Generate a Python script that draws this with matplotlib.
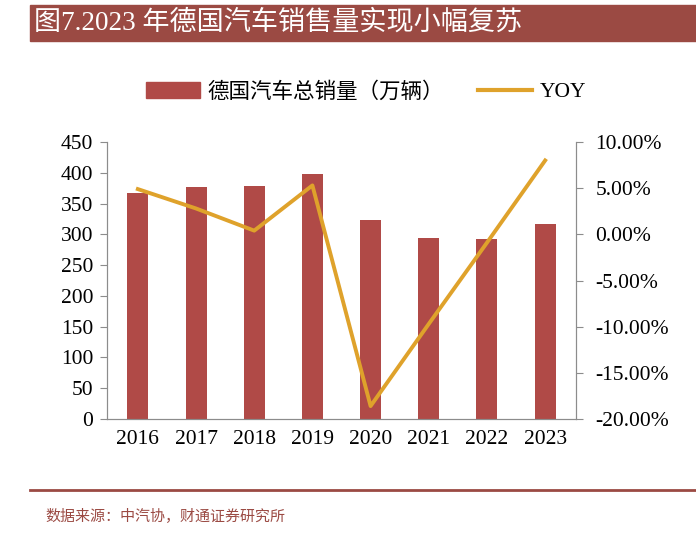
import matplotlib
matplotlib.use('Agg')
import matplotlib.pyplot as plt
from matplotlib.patches import Rectangle
from matplotlib.lines import Line2D
from matplotlib.ticker import FuncFormatter

plt.rcParams['font.family'] = ['Liberation Serif', 'Noto Sans CJK SC', 'DejaVu Sans']

years = ['2016', '2017', '2018', '2019', '2020', '2021', '2022', '2023']
sales = [367, 377, 378, 398, 323, 294, 293, 316]  # 万辆
yoy = [4.9, 2.8, 0.4, 5.3, -18.6, -9.7, -0.9, 8.0]  # %

bar_color = '#B04A47'
line_color = '#DFA22B'
brown = '#9B4A43'

fig = plt.figure(figsize=(6.96, 5.52), dpi=100)

# 标题栏
fig.patches.append(Rectangle((30 / 696, 1 - 41 / 552), 666 / 696, 36 / 552,
                             transform=fig.transFigure, color=brown, zorder=0))
fig.text(34 / 696, 1 - 23 / 552, '图7.2023 年德国汽车销售量实现小幅复苏',
         color='white', fontsize=19.5, va='center', ha='left')

ax = fig.add_axes([107 / 696, 1 - 419 / 552, 469 / 696, 277 / 552])
x = range(len(years))
ax.bar(x, sales, width=0.36, color=bar_color, zorder=2)
ax.set_ylim(0, 450)
ax.set_yticks(range(0, 451, 50))
ax.set_xlim(-0.53, 7.53)
ax.set_xticks(list(x))
ax.set_xticklabels(years)

ax2 = ax.twinx()
ax2.plot(x, yoy, color=line_color, lw=2.8, zorder=3)
ax2.set_ylim(-20, 10)
ax2.set_yticks(range(-20, 11, 5))
ax2.yaxis.set_major_formatter(FuncFormatter(lambda v, p: '%.2f%%' % v))

for a in (ax, ax2):
    a.spines['top'].set_visible(False)
    for s in ['left', 'right', 'bottom']:
        a.spines[s].set_color('#8C8C8C')
    a.tick_params(labelsize=15.5, colors='black', length=5, color='#8C8C8C')
ax.tick_params(axis='x', length=0, pad=8)
ax.tick_params(axis='y', pad=5)
ax2.tick_params(axis='y', pad=9)

# 图例
handles = [Rectangle((0, 0), 1, 1, color=bar_color),
           Line2D([0], [0], color=line_color, lw=3)]
fig.legend(handles, ['德国汽车总销量（万辆）', 'YOY'], loc='center',
           bbox_to_anchor=(366 / 696, 1 - 92 / 552), ncol=2, frameon=False,
           fontsize=15.5, handlelength=2.5, handleheight=0.75, columnspacing=1.6,
           handletextpad=0.35)

# 底部来源
fig.add_artist(Line2D([30 / 696, 1], [1 - 490 / 552, 1 - 490 / 552],
                      transform=fig.transFigure, color=brown, lw=2))
fig.text(45 / 696, 1 - 516 / 552, '数据来源：中汽协，财通证券研究所',
         color=brown, fontsize=10.8, va='center', ha='left')

fig.savefig('out.png', dpi=100)
